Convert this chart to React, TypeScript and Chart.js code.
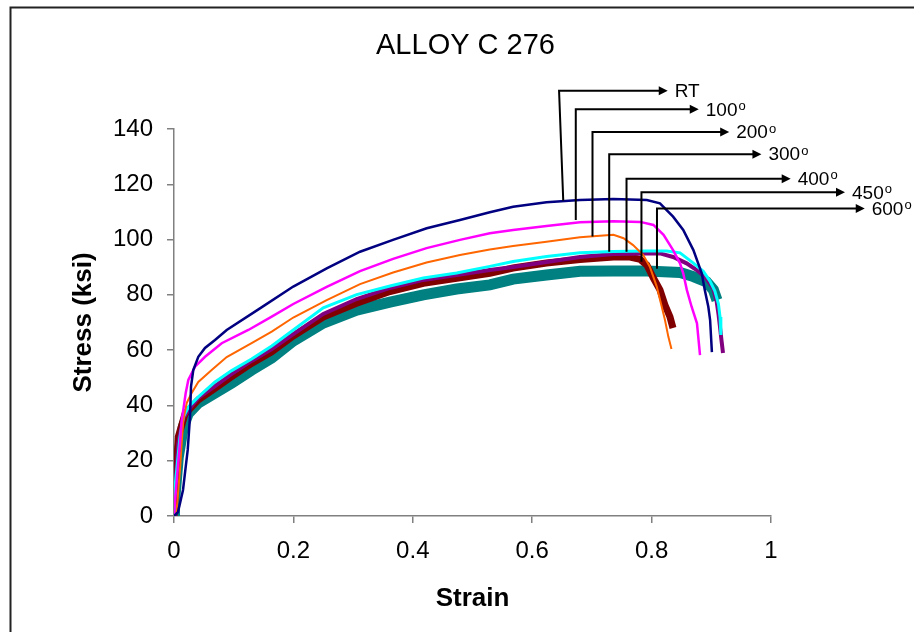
import React, { useEffect, useRef } from 'react';
import { Chart, registerables } from 'chart.js';

Chart.register(...registerables);

// ---------- data (strain, stress in ksi) ----------
const rtStrain = [0, 0.0067, 0.0151, 0.0196, 0.023, 0.0268, 0.0285, 0.0323, 0.0407, 0.0519, 0.0687, 0.0883, 0.144, 0.1998, 0.2558, 0.3116, 0.3668, 0.4233, 0.479, 0.529, 0.568, 0.624, 0.68, 0.736, 0.792, 0.814, 0.836, 0.853, 0.87, 0.884, 0.889, 0.895, 0.898, 0.901];
const rtStress = [0, 1.4, 9.4, 17.8, 23.9, 35.9, 46.8, 52.8, 57.6, 60.8, 63.7, 67.3, 75.1, 83.0, 89.6, 95.6, 99.9, 104.1, 107.1, 109.9, 111.9, 113.5, 114.3, 114.7, 114.3, 113.1, 108.3, 103.5, 96.2, 87.8, 81.8, 75.7, 70.9, 59.3];

const t100Strain = [0, 0.0017, 0.01, 0.0129, 0.0156, 0.0196, 0.024, 0.0352, 0.052, 0.0799, 0.1245, 0.1637, 0.1998, 0.2558, 0.3116, 0.367, 0.423, 0.479, 0.529, 0.568, 0.624, 0.68, 0.736, 0.781, 0.803, 0.82, 0.836, 0.8476, 0.853, 0.859, 0.867, 0.876, 0.8811];
const t100Stress = [0, 5.8, 26.4, 34.7, 38.4, 44.5, 49.2, 54.0, 57.6, 62.5, 67.3, 72.1, 76.7, 82.9, 88.6, 93.0, 96.9, 99.9, 102.3, 103.5, 104.9, 106.3, 106.6, 106.4, 105.3, 101.7, 96.2, 91.4, 87.8, 81.8, 75.7, 69.7, 58.2];

const t200Strain = [0, 0.0045, 0.01, 0.0129, 0.0156, 0.0213, 0.0296, 0.0407, 0.0631, 0.0883, 0.13, 0.1637, 0.1998, 0.2558, 0.3116, 0.367, 0.423, 0.479, 0.529, 0.568, 0.624, 0.68, 0.736, 0.753, 0.769, 0.786, 0.797, 0.8086, 0.817, 0.8224, 0.828, 0.8333];
const t200Stress = [0, 2.2, 16.6, 26.4, 34.7, 40.9, 44.5, 48.5, 52.8, 57.5, 62.5, 66.7, 71.8, 78.1, 83.9, 88.1, 91.7, 94.4, 96.4, 97.7, 99.2, 100.8, 101.7, 100.5, 98.0, 94.4, 90.2, 83.0, 75.7, 70.9, 64.9, 60.4];

const t300Strain = [0, 0.0017, 0.01, 0.0156, 0.024, 0.0407, 0.0687, 0.0966, 0.13, 0.1637, 0.1998, 0.25, 0.306, 0.3618, 0.4176, 0.4735, 0.529, 0.568, 0.624, 0.68, 0.736, 0.792, 0.825, 0.8476, 0.87, 0.8866, 0.8978, 0.906, 0.912, 0.9146, 0.916];
const t300Stress = [0, 10.5, 28.6, 35.8, 39.4, 43.1, 48.5, 52.6, 56.8, 61.5, 67.3, 75.3, 80.1, 83.2, 86.1, 87.9, 90.3, 92.1, 93.9, 95.2, 95.7, 95.9, 95.9, 95.2, 91.5, 88.5, 85.0, 81.4, 76.7, 72.0, 65.5];

const t400Strain = [0, 0.0008, 0.0072, 0.0156, 0.0268, 0.0407, 0.0687, 0.0966, 0.13, 0.1637, 0.1998, 0.25, 0.306, 0.3618, 0.4176, 0.4735, 0.529, 0.568, 0.624, 0.68, 0.736, 0.792, 0.814, 0.836, 0.8586, 0.8756, 0.892, 0.9035, 0.909, 0.912, 0.9146, 0.917, 0.9196];
const t400Stress = [0, 5.8, 26.4, 35.5, 39.1, 42.7, 47.0, 51.4, 56.1, 60.4, 65.8, 73.1, 78.5, 82.5, 85.4, 87.2, 89.0, 90.1, 91.9, 93.7, 94.8, 95.0, 95.0, 93.7, 91.4, 89.0, 85.9, 82.3, 77.6, 73.1, 68.4, 63.7, 59.0];

const t450Strain = [0, 0.0017, 0.0072, 0.0184, 0.0407, 0.0687, 0.0966, 0.13, 0.1637, 0.1998, 0.25, 0.306, 0.3618, 0.4176, 0.4735, 0.529, 0.568, 0.624, 0.68, 0.736, 0.764, 0.781, 0.792, 0.803, 0.814, 0.8224, 0.8308, 0.8358];
const t450Stress = [0, 7.6, 28.6, 36.9, 42.0, 46.2, 50.4, 55.2, 59.4, 65.1, 72.0, 77.0, 81.2, 84.2, 86.0, 87.8, 89.7, 91.5, 92.8, 93.7, 93.7, 92.8, 90.8, 86.1, 81.8, 76.3, 72.0, 68.0];

const t600Strain = [0, 0.0008, 0.0072, 0.0156, 0.024, 0.0407, 0.0687, 0.0966, 0.13, 0.1637, 0.1998, 0.25, 0.306, 0.3618, 0.4176, 0.4735, 0.529, 0.568, 0.624, 0.68, 0.736, 0.792, 0.8476, 0.87, 0.892, 0.9035, 0.9095];
const t600Stress = [0, 4.7, 21.3, 32.2, 37.1, 40.9, 44.5, 48.1, 52.8, 57.2, 63.3, 69.8, 74.5, 77.4, 80.0, 82.1, 83.6, 85.7, 87.2, 88.5, 88.6, 88.6, 88.1, 86.6, 84.7, 81.8, 78.1];

const seriesNames = ['RT', '100', '200', '300', '400', '450', '600'];
const seriesColors = ['#000080', '#FF00FF', '#FF6600', '#00FFFF', '#800080', '#800000', '#008080'];
const seriesWidths = [2.5, 2.5, 2, 3, 4, 7, 11];
const seriesStrains = [rtStrain, t100Strain, t200Strain, t300Strain, t400Strain, t450Strain, t600Strain];
const seriesStresses = [rtStress, t100Stress, t200Stress, t300Stress, t400Stress, t450Stress, t600Stress];

// ---------- annotation callouts (data units) ----------
const calloutLabels = ['RT', '100', '200', '300', '400', '450', '600'];
const calloutHasDegree = [false, true, true, true, true, true, true];
const calloutBaseStrain = [0.652, 0.673, 0.701, 0.729, 0.758, 0.783, 0.809];
const calloutBaseStress = [114.1, 107.1, 101.1, 95.6, 95.6, 92.0, 89.4];
const calloutTopStrain = [0.645, 0.673, 0.701, 0.729, 0.758, 0.783, 0.809];
const calloutLineStress = [153.8, 147.1, 138.9, 130.9, 122.0, 117.1, 111.2];
const calloutTipStrain = [0.827, 0.879, 0.93, 0.984, 1.033, 1.124, 1.157];

// ---------- ticks & text ----------
const xTickValues = [0, 0.2, 0.4, 0.6, 0.8, 1];
const xTickLabels = ['0', '0.2', '0.4', '0.6', '0.8', '1'];
const yTickValues = [0, 20, 40, 60, 80, 100, 120, 140];
const yTickLabels = ['0', '20', '40', '60', '80', '100', '120', '140'];
const chartTitle = 'ALLOY C 276';
const xTitle = 'Strain';
const yTitle = 'Stress (ksi)';

const FONT = '"Liberation Sans", Arial, sans-serif';

const decorPlugin = {
  id: 'decor',
  afterDraw(chart: any) {
    const { ctx, scales } = chart;
    const xs = scales.x;
    const ys = scales.y;
    const area = chart.chartArea;
    ctx.save();

    // outer frame (left + top visible)
    ctx.strokeStyle = '#222';
    ctx.lineWidth = 2;
    ctx.beginPath();
    ctx.moveTo(10.5, 640);
    ctx.lineTo(10.5, 7.5);
    ctx.lineTo(920, 7.5);
    ctx.stroke();

    // title
    ctx.fillStyle = '#000';
    ctx.font = `29px ${FONT}`;
    ctx.textAlign = 'center';
    ctx.textBaseline = 'middle';
    ctx.fillText(chartTitle, (area.left + area.right) / 2 - 7, 46);

    // axis titles
    ctx.font = `bold 26px ${FONT}`;
    ctx.fillText(xTitle, (area.left + area.right) / 2, 599);
    ctx.save();
    ctx.translate(84, (area.top + area.bottom) / 2);
    ctx.rotate(-Math.PI / 2);
    ctx.fillText(yTitle, 0, 0);
    ctx.restore();

    // callouts
    ctx.strokeStyle = '#000';
    ctx.fillStyle = '#000';
    ctx.lineWidth = 2;
    for (let i = 0; i < calloutLabels.length; i++) {
      const bx = xs.getPixelForValue(calloutBaseStrain[i]);
      const by = ys.getPixelForValue(calloutBaseStress[i]);
      const tx = xs.getPixelForValue(calloutTopStrain[i]);
      const ty = ys.getPixelForValue(calloutLineStress[i]);
      const ex = xs.getPixelForValue(calloutTipStrain[i]);
      ctx.beginPath();
      ctx.moveTo(bx, by);
      ctx.lineTo(tx, ty);
      ctx.lineTo(ex - 6, ty);
      ctx.stroke();
      ctx.beginPath();
      ctx.moveTo(ex, ty);
      ctx.lineTo(ex - 9, ty - 4.5);
      ctx.lineTo(ex - 9, ty + 4.5);
      ctx.closePath();
      ctx.fill();
      ctx.font = `19px ${FONT}`;
      ctx.textAlign = 'left';
      ctx.textBaseline = 'middle';
      const lx = ex + 7;
      ctx.fillText(calloutLabels[i], lx, ty + 1);
      if (calloutHasDegree[i]) {
        const w = ctx.measureText(calloutLabels[i]).width;
        ctx.font = `13px ${FONT}`;
        ctx.fillText('o', lx + w + 1, ty - 3);
      }
    }
    ctx.restore();
  },
};

export default function App() {
  const ref = useRef<HTMLCanvasElement | null>(null);
  useEffect(() => {
    if (!ref.current) return;
    const datasets = seriesNames.map((name, i) => ({
      label: name,
      data: seriesStrains[i].map((s, j) => ({ x: s, y: seriesStresses[i][j] })),
      borderColor: seriesColors[i],
      backgroundColor: seriesColors[i],
      borderWidth: seriesWidths[i],
      pointRadius: 0,
      tension: 0,
      fill: false,
    }));
    const chart = new Chart(ref.current, {
      type: 'line',
      data: { datasets },
      plugins: [decorPlugin],
      options: {
        animation: false,
        responsive: false,
        devicePixelRatio: 1,
        layout: { padding: { left: 0, top: 129, right: 143, bottom: 0 } },
        plugins: { legend: { display: false }, tooltip: { enabled: false }, title: { display: false } },
        scales: {
          x: {
            type: 'linear',
            min: 0,
            max: 1,
            afterBuildTicks: (s: any) => { s.ticks = xTickValues.map((v) => ({ value: v })); },
            afterFit: (s: any) => { s.height = 116; s.paddingLeft = 0; s.paddingRight = 0; },
            ticks: {
              callback: (v: any) => xTickLabels[xTickValues.indexOf(Number(v))] ?? '',
              font: { family: FONT, size: 24 },
              color: '#000',
              padding: 14,
              maxRotation: 0,
              autoSkip: false,
            },
            grid: { drawOnChartArea: false, drawTicks: true, tickLength: 7, color: '#808080', lineWidth: 1.5 },
            border: { display: true, color: '#808080', width: 1.5 },
          },
          y: {
            type: 'linear',
            min: 0,
            max: 140,
            afterBuildTicks: (s: any) => { s.ticks = yTickValues.map((v) => ({ value: v })); },
            afterFit: (s: any) => { s.width = 174; s.paddingTop = 0; s.paddingBottom = 0; },
            ticks: {
              callback: (v: any) => yTickLabels[yTickValues.indexOf(Number(v))] ?? '',
              font: { family: FONT, size: 24 },
              color: '#000',
              padding: 14,
              autoSkip: false,
            },
            grid: { drawOnChartArea: false, drawTicks: true, tickLength: 7, color: '#808080', lineWidth: 1.5 },
            border: { display: true, color: '#808080', width: 1.5 },
          },
        },
      },
    } as any);
    return () => chart.destroy();
  }, []);
  return (
    <canvas
      ref={ref}
      width={914}
      height={632}
      style={{ position: 'fixed', left: 0, top: 0, width: 914, height: 632, display: 'block', background: '#fff' }}
    />
  );
}
